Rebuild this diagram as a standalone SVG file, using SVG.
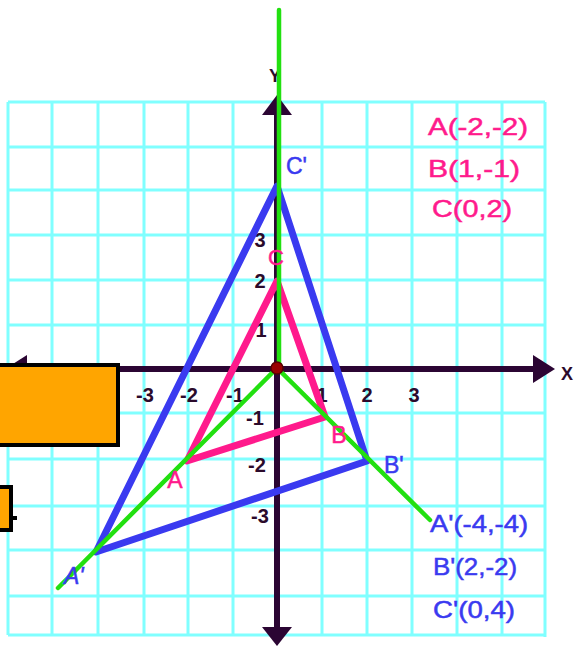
<svg xmlns="http://www.w3.org/2000/svg" width="577" height="646" viewBox="0 0 577 646">
<style>
.grid line{stroke:#80ffff;stroke-width:3}
.ax{stroke:#2b0533;stroke-width:6}
.axh{fill:#2b0533}
.num{font-family:"Liberation Sans",Arial,sans-serif;font-size:20px;font-weight:bold;fill:#2b0a2b;text-anchor:middle}
.pk{font-family:"Liberation Sans",Arial,sans-serif;fill:#ff1a8c;stroke:#ff1a8c;stroke-width:0.5}
.bl{font-family:"Liberation Sans",Arial,sans-serif;fill:#3a3af0;stroke:#3a3af0;stroke-width:0.5}
.leg{font-size:24px}
.tri{fill:none;stroke-width:7;stroke-linejoin:round;stroke-linecap:round}
.gr{stroke:#22e010;stroke-width:4.5;stroke-linecap:round;fill:none}
</style>
<rect width="577" height="646" fill="#ffffff"/>
<g id="grid" class="grid">
<line x1="8" y1="102" x2="8" y2="635"/>
<line x1="52" y1="102" x2="52" y2="635"/>
<line x1="98" y1="102" x2="98" y2="635"/>
<line x1="144" y1="102" x2="144" y2="635"/>
<line x1="188" y1="102" x2="188" y2="635"/>
<line x1="233" y1="102" x2="233" y2="635"/>
<line x1="322" y1="102" x2="322" y2="635"/>
<line x1="367" y1="102" x2="367" y2="635"/>
<line x1="412" y1="102" x2="412" y2="635"/>
<line x1="457" y1="102" x2="457" y2="635"/>
<line x1="502" y1="102" x2="502" y2="635"/>
<line x1="545" y1="102" x2="545" y2="637"/>
<line x1="8" y1="102" x2="545" y2="102"/>
<line x1="8" y1="147" x2="545" y2="147"/>
<line x1="8" y1="190" x2="545" y2="190"/>
<line x1="8" y1="235" x2="545" y2="235"/>
<line x1="8" y1="280" x2="545" y2="280"/>
<line x1="8" y1="325" x2="545" y2="325"/>
<line x1="8" y1="413" x2="545" y2="413"/>
<line x1="8" y1="459" x2="545" y2="459"/>
<line x1="8" y1="506" x2="545" y2="506"/>
<line x1="8" y1="550" x2="545" y2="550"/>
<line x1="8" y1="596" x2="545" y2="596"/>
<line x1="8" y1="635" x2="545" y2="635"/>
</g>
<g id="axes">
<line class="ax" x1="10" y1="369" x2="536" y2="369"/>
<polygon class="axh" points="555,369 533,355 533,383"/>
<polygon class="axh" points="5,369 27,355 27,383"/>
<line class="ax" x1="277" y1="112" x2="277" y2="630"/>
<polygon class="axh" points="277,95 262,115 292,115"/>
<polygon class="axh" points="277,646 262,627 292,627"/>
<text x="275" y="82" class="num" style="font-size:18px">Y</text>
<text x="567" y="380" class="num" style="font-size:18px">X</text>
</g>
<g id="ticks">
<text class="num" x="145" y="402">-3</text>
<text class="num" x="189" y="402">-2</text>
<text class="num" x="235" y="402">-1</text>
<text class="num" x="322" y="402">1</text>
<text class="num" x="367" y="402">2</text>
<text class="num" x="414" y="402">3</text>
<text class="num" x="255" y="425">-1</text>
<text class="num" x="257" y="472">-2</text>
<text class="num" x="260" y="523">-3</text>
<text class="num" x="261" y="337">1</text>
<text class="num" x="260" y="288">2</text>
<text class="num" x="260" y="247">3</text>
</g>
<g id="connectors">
<polygon id="tri-image" class="tri" stroke="#3a3af0" points="96,552 367,461 277,186"/>
<polygon id="tri-object" class="tri" stroke="#ff1a8c" points="187,461 325,417 277,281"/>
<polyline class="gr" points="279,10 279,368"/>
<polyline class="gr" points="58,588 277,368 430,520"/>
</g>
<g id="origin"><circle cx="277" cy="368" r="6" fill="#9a0000" stroke="#5a0000" stroke-width="1.5"/></g>
<g id="labels">
<text class="pk" x="175" y="488" font-size="23" text-anchor="middle">A</text>
<text class="pk" x="339" y="443" font-size="23" text-anchor="middle">B</text>
<text class="pk" x="276" y="265" font-size="22" text-anchor="middle">C</text>
<text class="bl" x="286" y="174" font-size="23">C'</text>
<text class="bl" x="384" y="473" font-size="23">B'</text>
<text class="bl" x="64" y="584" font-size="23" font-style="italic">A'</text>
</g>
<g id="legend-object">
<text class="pk leg" x="428" y="135" textLength="100" lengthAdjust="spacingAndGlyphs">A(-2,-2)</text>
<text class="pk leg" x="428" y="177" textLength="92" lengthAdjust="spacingAndGlyphs">B(1,-1)</text>
<text class="pk leg" x="432" y="217" textLength="80" lengthAdjust="spacingAndGlyphs">C(0,2)</text>
</g>
<g id="legend-image">
<text class="bl leg" x="430" y="532" textLength="98" lengthAdjust="spacingAndGlyphs">A'(-4,-4)</text>
<text class="bl leg" x="433" y="575" textLength="84" lengthAdjust="spacingAndGlyphs">B'(2,-2)</text>
<text class="bl leg" x="433" y="618" textLength="82" lengthAdjust="spacingAndGlyphs">C'(0,4)</text>
</g>
<g id="box1"><rect x="-3" y="365" width="121" height="80" fill="#ffa500" stroke="#000" stroke-width="4"/></g>
<g id="box2"><rect x="-3" y="487" width="14" height="43" fill="#ffa500" stroke="#000" stroke-width="4"/><line x1="11" y1="518" x2="17" y2="518" stroke="#000" stroke-width="4"/></g>
</svg>
